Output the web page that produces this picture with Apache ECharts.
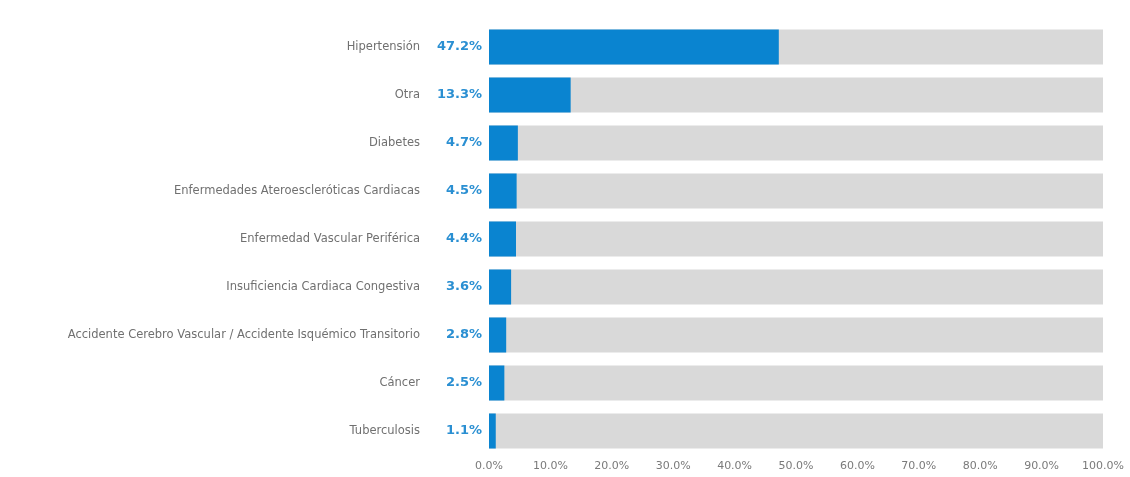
<!DOCTYPE html>
<html>
<head>
<meta charset="utf-8">
<script src="https://cdn.jsdelivr.net/npm/echarts@6/dist/echarts.min.js"></script>
<style>
  html, body { margin: 0; padding: 0; background: #ffffff; }
  #chart { width: 1130px; height: 477px; }
</style>
</head>
<body>
<div id="chart"></div>
<script>
// Prevalence of comorbidities (percent of patients)
const categories = [
  'Hipertensión',
  'Otra',
  'Diabetes',
  'Enfermedades Ateroescleróticas Cardiacas',
  'Enfermedad Vascular Periférica',
  'Insuficiencia Cardiaca Congestiva',
  'Accidente Cerebro Vascular / Accidente Isquémico Transitorio',
  'Cáncer',
  'Tuberculosis'
];
const values = [47.2, 13.3, 4.7, 4.5, 4.4, 3.6, 2.8, 2.5, 1.1];
const axisMax = 100;
const axisStep = 10;

const chart = echarts.init(document.getElementById('chart'), null, { renderer: 'canvas' });

chart.setOption({
  animation: false,
  backgroundColor: '#ffffff',
  grid: { left: 489, right: 27, top: 23, bottom: 22, containLabel: false },
  xAxis: {
    type: 'value',
    min: 0,
    max: axisMax,
    interval: axisStep,
    axisLine: { show: false },
    axisTick: { show: false },
    splitLine: { show: false },
    axisLabel: {
      color: '#7a7a7a',
      fontFamily: 'DejaVu Sans',
      fontSize: 11,
      margin: 6,
      formatter: v => v.toFixed(1) + '%'
    }
  },
  yAxis: {
    type: 'category',
    data: categories,
    inverse: true,
    axisLine: { show: false },
    axisTick: { show: false },
    axisLabel: {
      color: '#707070',
      fontFamily: 'DejaVu Sans',
      fontSize: 11.5,
      margin: 69
    }
  },
  series: [{
    type: 'bar',
    data: values,
    barCategoryGap: '27%',
    itemStyle: { color: '#0a84d0' },
    showBackground: true,
    backgroundStyle: { color: '#d9d9d9' },
    label: {
      show: true,
      position: 'left',
      distance: 7,
      color: '#2a8fd2',
      fontFamily: 'DejaVu Sans',
      fontWeight: 'bold',
      fontSize: 13,
      formatter: p => p.value.toFixed(1) + '%'
    }
  }]
});
</script>
</body>
</html>
